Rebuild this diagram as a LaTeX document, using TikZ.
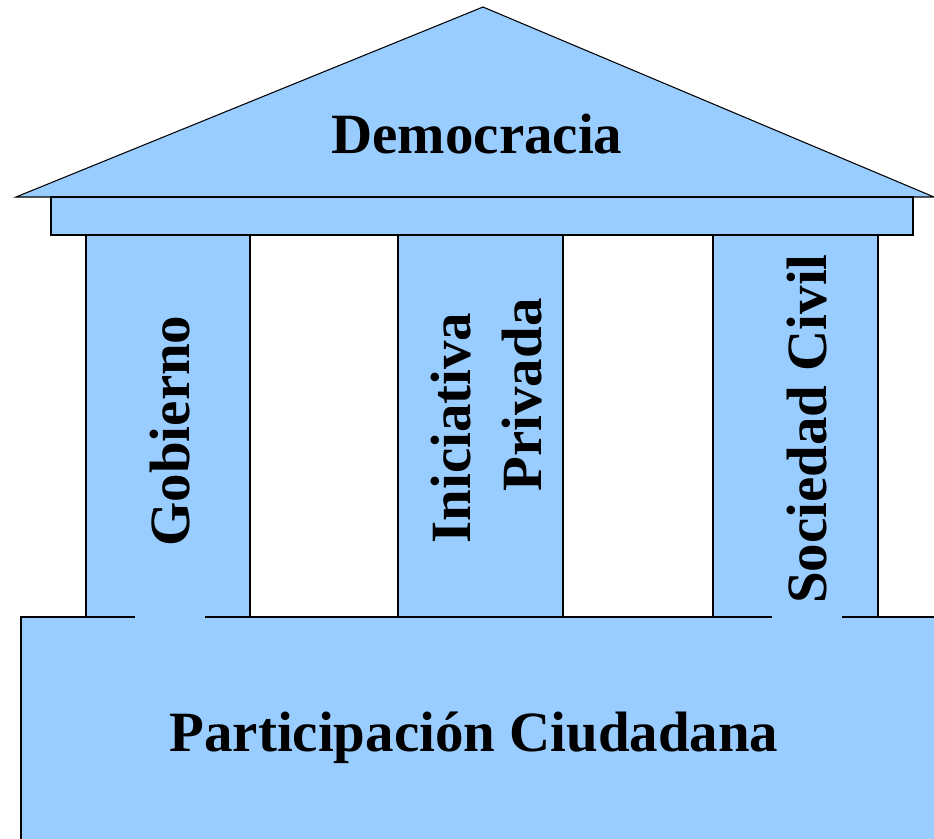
\documentclass[tikz,border=0pt]{standalone}
\usepackage{fontspec}
\setmainfont{Liberation Serif}
\definecolor{templeblue}{HTML}{99CCFF}
\tikzset{
  part/.style={fill=templeblue, draw=black, line width=0.6pt},
  word/.style={font=\bfseries\fontsize{32.4}{40.4}\selectfont, inner sep=0pt},
  colword/.style={word, rotate=90, fill=templeblue, minimum height=1.42cm}
}
\begin{document}
\begin{tikzpicture}[x=0.02cm, y=-0.02cm]
      \useasboundingbox (0,0) rectangle (934,839);
      \draw[part] (16,197) -- (483,7) -- (934,197) -- cycle;
      \draw[part] (51,197) rectangle (913,235);
      \draw[part] (86,235) rectangle (250,617);
      \draw[part] (398,235) rectangle (563,617);
      \draw[part] (713,235) rectangle (878,617);
      \fill[templeblue] (21,617) rectangle (934,839);
      \draw[line width=0.6pt] (21,839) -- (21,617) -- (934,617);
      \node[word, anchor=base] (roof) at (477,153) {Democracia};
      \node[word, anchor=base] (base) at (474,751) {Participación Ciudadana};
      \node[colword, minimum width=7.6cm] (gob) at (170,431) {Gobierno};
      \node[word, rotate=90, align=right] (ip) at (487,421) {Iniciativa\kern.25em\\Privada};
      \node[colword, minimum width=7.68cm] (sc) at (807,429) {Sociedad Civil};
    \end{tikzpicture}
\end{document}
